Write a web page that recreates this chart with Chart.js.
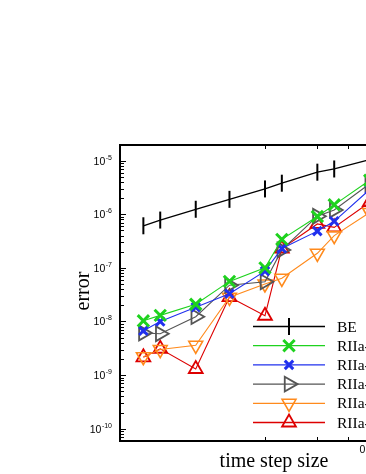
<!DOCTYPE html>
<html>
<head>
<meta charset="utf-8">
<script src="https://cdn.jsdelivr.net/npm/chart.js@4"></script>
<style>
html, body { margin: 0; padding: 0; background: #fff; overflow: hidden; }
#caja { position: relative; width: 470px; height: 474px; }
</style>
</head>
<body>
<div id="caja"><canvas id="myChart01"></canvas></div>
<script>
// time step sizes
var pasos = [0.002, 0.0025, 0.004, 0.00625, 0.01, 0.0125, 0.02, 0.025, 0.04];

// errors per method
var errBE  = [6.1e-7, 7.8e-7, 1.24e-6, 1.9e-6, 2.97e-6, 3.8e-6, 6.1e-6, 7.0e-6, 1.05e-5];
var errR1  = [1.03e-8, 1.3e-8, 2.1e-8, 5.6e-8, 1.0e-7, 3.4e-7, 9.1e-7, 1.5e-6, 4.3e-6];
var errR2  = [6.7e-9, 1.0e-8, 1.84e-8, 3.3e-8, 8.7e-8, 2.3e-7, 4.85e-7, 7.4e-7, 2.9e-6];
var errR3  = [6.1e-9, 5.9e-9, 1.23e-8, 4.75e-8, 5.5e-8, 2.16e-7, 9.2e-7, 1.2e-6, 3.7e-6];
var errR4  = [2.2e-9, 3.0e-9, 3.6e-9, 2.83e-8, 5.0e-8, 6.4e-8, 1.87e-7, 4.0e-7, 1.08e-6];
var errR5  = [2.15e-9, 3.1e-9, 1.3e-9, 2.85e-8, 1.28e-8, 2.3e-7, 6.6e-7, 5.7e-7, 1.68e-6];

var nombres = ['BE', 'RIIa-1', 'RIIa-2', 'RIIa-3', 'RIIa-4', 'RIIa-5'];

// axis ticks
var ticksX = [0.01, 0.02, 0.03, 0.04, 0.05, 0.06, 0.07, 0.08];
var ticksXLabel = [0.04];
var textoX = ['0.04'];
var decadasY = [-10, -9, -8, -7, -6, -5];

function puntos(vals) {
    return pasos.map(function (p, i) { return { x: p, y: vals[i] }; });
}

var estilos = [
    { color: '#000000', ancho: 1.3, forma: 'line', rot: 90, radio: 8.5, bw: 2 },
    { color: '#1ed21e', ancho: 1.1, forma: 'crossRot', rot: 0, radio: 8, bw: 3 },
    { color: '#2030ee', ancho: 1.1, forma: 'crossRot', rot: 0, radio: 6, bw: 3 },
    { color: '#555555', ancho: 1.1, forma: 'triangle', rot: 90, radio: 8.5, bw: 1.8 },
    { color: '#ff8a1c', ancho: 1.1, forma: 'triangle', rot: 180, radio: 8, bw: 1.6 },
    { color: '#dd0000', ancho: 1.1, forma: 'triangle', rot: 0, radio: 8, bw: 1.8 }
];

var series = [errBE, errR1, errR2, errR3, errR4, errR5];

var datasets = series.map(function (s, i) {
    var e = estilos[i];
    return {
        label: nombres[i],
        data: puntos(s),
        borderColor: e.color,
        borderWidth: e.ancho,
        pointStyle: e.forma,
        rotation: e.rot,
        pointRadius: e.radio,
        pointBorderWidth: e.bw,
        pointBorderColor: e.color,
        pointBackgroundColor: 'rgba(0,0,0,0)',
        fill: false,
        tension: 0
    };
});

var marco = {
    id: 'marco',
    afterDraw: function (chart) {
        var ctx = chart.ctx;
        var ca = chart.chartArea;
        var sx = chart.scales.x;
        var sy = chart.scales.y;
        ctx.save();

        // ticks on y (inward, both sides)
        ctx.strokeStyle = '#000';
        ctx.lineWidth = 1;
        ctx.beginPath();
        for (var d = -11; d <= -5; d++) {
            for (var k = 1; k <= 9; k++) {
                var v = k * Math.pow(10, d);
                if (v < sy.min || v > sy.max) continue;
                var py = Math.round(sy.getPixelForValue(v)) + 0.5;
                var len = (k === 1) ? 6 : 4;
                ctx.moveTo(ca.left, py); ctx.lineTo(ca.left + len, py);
                ctx.moveTo(ca.right, py); ctx.lineTo(ca.right - len, py);
            }
        }
        // ticks on x (inward, top and bottom)
        ticksX.forEach(function (t) {
            var px = Math.round(sx.getPixelForValue(t)) + 0.5;
            ctx.moveTo(px, ca.bottom); ctx.lineTo(px, ca.bottom - 4);
            ctx.moveTo(px, ca.top); ctx.lineTo(px, ca.top + 4);
        });
        ctx.stroke();

        // frame
        ctx.lineWidth = 2;
        ctx.strokeRect(ca.left, ca.top, ca.right - ca.left, ca.bottom - ca.top);

        // y labels 10^n
        ctx.fillStyle = '#000';
        ctx.textBaseline = 'middle';
        decadasY.forEach(function (d) {
            var py = sy.getPixelForValue(Math.pow(10, d));
            ctx.font = '7px "Liberation Sans", Arial, sans-serif';
            ctx.textAlign = 'right';
            var exp = String(d);
            ctx.fillText(exp, 112, py - 3);
            var w = ctx.measureText(exp).width;
            ctx.font = '10.5px "Liberation Sans", Arial, sans-serif';
            ctx.fillText('10', 112 - w - 0.5, py + 1);
        });

        // x labels
        ctx.font = '10.5px "Liberation Sans", Arial, sans-serif';
        ctx.textAlign = 'center';
        ticksXLabel.forEach(function (t, i) {
            ctx.fillText(textoX[i], sx.getPixelForValue(t), 450);
        });

        // axis titles
        ctx.font = '20px "Liberation Serif", "Times New Roman", serif';
        ctx.textAlign = 'center';
        ctx.textBaseline = 'alphabetic';
        ctx.fillText('time step size', (ca.left + ca.right) / 2, 467);
        ctx.save();
        ctx.translate(89, (ca.top + ca.bottom) / 2 - 2);
        ctx.rotate(-Math.PI / 2);
        ctx.fillText('error', 0, 0);
        ctx.restore();

        // legend
        ctx.font = '15.5px "Liberation Serif", "Times New Roman", serif';
        ctx.textAlign = 'left';
        ctx.textBaseline = 'middle';
        estilos.forEach(function (e, i) {
            var ly = 326.5 + i * 19.2;
            ctx.strokeStyle = e.color;
            ctx.lineWidth = e.ancho + 0.2;
            ctx.beginPath();
            ctx.moveTo(253, ly); ctx.lineTo(325, ly);
            ctx.stroke();
            ctx.fillStyle = 'rgba(0,0,0,0)';
            ctx.lineWidth = e.bw;
            Chart.helpers.drawPoint(ctx, { pointStyle: e.forma, rotation: e.rot, radius: e.radio, borderWidth: e.bw }, 289, ly);
            ctx.fillStyle = '#000';
            ctx.fillText(nombres[i], 337, ly + 1);
        });

        ctx.restore();
    }
};

var ctx = document.getElementById('myChart01');
var myChart1 = new Chart(ctx, {
    type: 'line',
    data: { datasets: datasets },
    options: {
        responsive: true,
        maintainAspectRatio: false,
        animation: false,
        events: [],
        layout: { padding: { left: 120, top: 145, right: 42, bottom: 33 } },
        plugins: {
            legend: { display: false },
            tooltip: { enabled: false }
        },
        scales: {
            x: { type: 'logarithmic', min: 0.001468, max: 0.0865, display: false },
            y: { type: 'logarithmic', min: 5.9e-11, max: 1.96e-5, display: false }
        }
    },
    plugins: [marco]
});
</script>
</body>
</html>
